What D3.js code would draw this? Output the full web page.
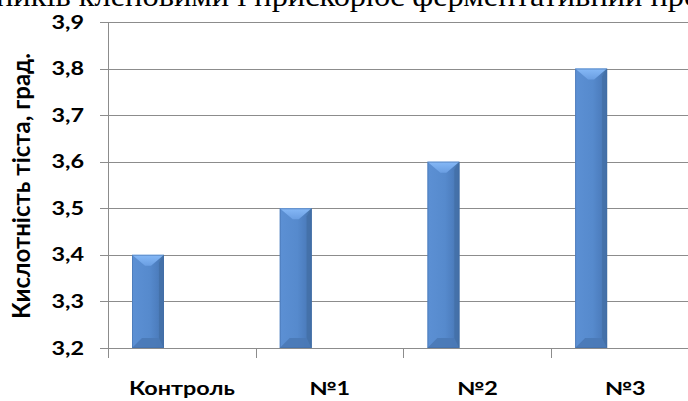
<!DOCTYPE html>
<html><head><meta charset="utf-8">
<script src="https://cdn.jsdelivr.net/npm/d3@7"></script>
<style>html,body{margin:0;padding:0;background:#fff;overflow:hidden}</style>
</head><body>
<script>
const categories = ["Контроль", "№1", "№2", "№3"];
const values = [3.4, 3.5, 3.6, 3.8];
const yTicks = [3.2, 3.3, 3.4, 3.5, 3.6, 3.7, 3.8, 3.9];
const yTitle = "Кислотність тіста, град.";
const topText = "ників кленовими і прискорює ферментативний про";

const W = 688, H = 401;
const svg = d3.select("body").append("svg").attr("width", W).attr("height", H);

const defs = svg.append("defs");
const gBody = defs.append("linearGradient").attr("id","body").attr("x1",0).attr("x2",1).attr("y1",0).attr("y2",0);
gBody.append("stop").attr("offset","0%").attr("stop-color","#5C90D4");
gBody.append("stop").attr("offset","55%").attr("stop-color","#568ACD");
gBody.append("stop").attr("offset","80%").attr("stop-color","#4D7EBF");
gBody.append("stop").attr("offset","100%").attr("stop-color","#44729F");
const gTop = defs.append("linearGradient").attr("id","topb").attr("x1",0).attr("x2",0).attr("y1",0).attr("y2",1);
gTop.append("stop").attr("offset","0%").attr("stop-color","#86B9F7");
gTop.append("stop").attr("offset","100%").attr("stop-color","#6A9EE2");

const FONT = "Lato, 'Open Sans', sans-serif";
const SX = 1.3;

const y = d3.scaleLinear().domain([3.2, 3.9]).range([348, 22]);
const x = d3.scaleBand().domain(categories).range([108, 108 + 4 * 147.7]).padding(0);

// top cut text
svg.append("text").attr("transform", "translate(-4,6) scale(1.08,1)")
  .attr("font-family", "'Liberation Serif', 'DejaVu Serif', serif").attr("font-size", 30)
  .attr("fill", "#000").text(topText);

// gridlines
svg.append("g").selectAll("line").data(yTicks).join("line")
  .attr("x1", 100).attr("x2", W).attr("y1", d => Math.round(y(d)) + 0.5).attr("y2", d => Math.round(y(d)) + 0.5)
  .attr("stroke", "#8C8C8C").attr("stroke-width", 1);

// y axis line
svg.append("line").attr("x1", 108.5).attr("x2", 108.5).attr("y1", y(3.9)).attr("y2", 358)
  .attr("stroke", "#8C8C8C");

// category ticks
svg.append("g").selectAll("line").data(categories).join("line")
  .attr("x1", d => Math.round(x(d)) + 0.5).attr("x2", d => Math.round(x(d)) + 0.5)
  .attr("y1", 348).attr("y2", 358).attr("stroke", "#8C8C8C");

// y tick labels
svg.append("g").selectAll("text").data(yTicks).join("text")
  .attr("transform", d => `translate(84,${y(d) + 6.5}) scale(${SX},1)`)
  .attr("text-anchor", "end").attr("font-family", FONT).attr("font-weight", "bold")
  .attr("font-size", 18).attr("fill", "#000")
  .text(d => d3.format(".1f")(d).replace(".", ","));

// x labels
svg.append("g").selectAll("text").data(categories).join("text")
  .attr("transform", d => `translate(${x(d) + x.bandwidth() / 2},395) scale(${SX},1)`)
  .attr("text-anchor", "middle").attr("font-family", FONT).attr("font-weight", "bold")
  .attr("font-size", 18).attr("fill", "#000").text(d => d);

// y title
svg.append("text").attr("transform", "translate(30,186) rotate(-90)")
  .attr("text-anchor", "middle").attr("font-family", FONT).attr("font-weight", "bold")
  .attr("font-size", 24).attr("fill", "#000").text(yTitle);

// bars
const bw = 32, off = 24;
const bars = svg.append("g").selectAll("g").data(categories.map((c, i) => ({c, v: values[i]}))).join("g");
bars.each(function(d) {
  const g = d3.select(this);
  const x0 = x(d.c) + off, x1 = x0 + bw, yt = y(d.v), yb = y(3.2);
  g.append("rect").attr("x", x0).attr("y", yt).attr("width", bw).attr("height", yb - yt).attr("fill", "url(#body)");
  g.append("polygon").attr("points", [[x0, yb], [x0 + 10, yb - 10], [x1 - 5, yb - 10], [x1, yb]].map(p => p.join(",")).join(" "))
    .attr("fill", "#4A79B6").attr("opacity", 0.9);
  g.append("polygon").attr("points", [[x1 - 5, yt + 8], [x1, yt], [x1, yb], [x1 - 5, yb - 10]].map(p => p.join(",")).join(" "))
    .attr("fill", "#4470A8").attr("opacity", 0.9);
  g.append("polygon").attr("points", [[x0, yt], [x1, yt], [x0 + bw / 2 + 3, yt + 11], [x0 + bw / 2 - 3, yt + 11]].map(p => p.join(",")).join(" "))
    .attr("fill", "url(#topb)");
  g.append("rect").attr("x", x0 + 0.5).attr("y", yt + 0.5).attr("width", bw - 1).attr("height", yb - yt - 1)
    .attr("fill", "none").attr("stroke", "#3F6CA6").attr("stroke-opacity", 0.5);
});
</script>
</body></html>
